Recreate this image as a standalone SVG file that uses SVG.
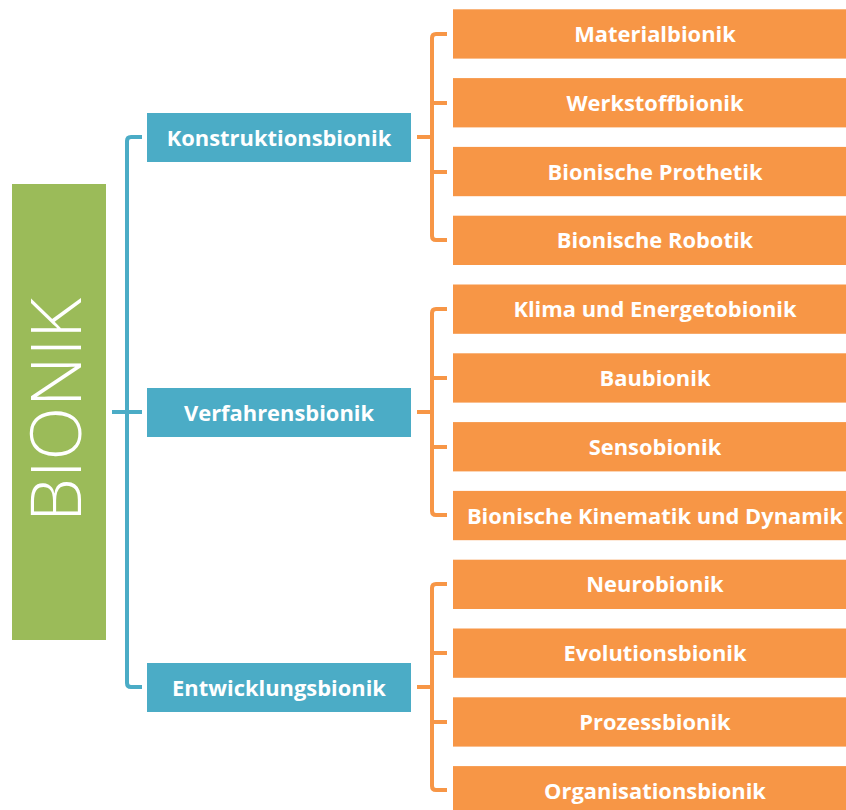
<svg xmlns="http://www.w3.org/2000/svg" width="846" height="810" viewBox="0 0 846 810">
<style>
.o{fill:#F79646}
.b{fill:#4BACC6}
.t{font-family:"Open Sans","Liberation Sans",sans-serif;font-weight:700;font-size:21.9px;fill:#fff;text-anchor:middle;dominant-baseline:central}
.co{fill:none;stroke:#F79646;stroke-width:4;stroke-linejoin:round}
.cb{fill:none;stroke:#4BACC6;stroke-width:4;stroke-linejoin:round}
</style>
<rect width="846" height="810" fill="#fff"/>
<g id="connectors">
<path class="cb" d="M142 137 H131 Q127 137 127 141 V683 Q127 687 131 687 H142 M112 412 H142"/>
<path class="co" d="M447 34 H436 Q432 34 432 38 V236 Q432 240 436 240 H447 M432 103 H447 M432 172 H447 M417 137 H432"/>
<path class="co" d="M447 309 H436 Q432 309 432 313 V511 Q432 515 436 515 H447 M432 378 H447 M432 447 H447 M417 412 H432"/>
<path class="co" d="M447 584 H436 Q432 584 432 588 V786 Q432 790 436 790 H447 M432 653 H447 M432 722 H447 M417 687 H432"/>
</g>
<g id="bionik"><rect x="12" y="184" width="94" height="456" fill="#9BBB59"/>
<text transform="translate(81,410) rotate(-90)" font-family="'Open Sans','Liberation Sans',sans-serif" font-weight="300" font-size="70" fill="#fff" text-anchor="middle" textLength="224" lengthAdjust="spacingAndGlyphs">BIONIK</text></g>
<g id="konstruktion"><rect class="b" x="147" y="113" width="264" height="49"/><text class="t" x="279" y="137">Konstruktionsbionik</text></g>
<g id="verfahren"><rect class="b" x="147" y="388" width="264" height="49"/><text class="t" x="279" y="412">Verfahrensbionik</text></g>
<g id="entwicklung"><rect class="b" x="147" y="663" width="264" height="49"/><text class="t" x="279" y="687">Entwicklungsbionik</text></g>
<g id="n1"><rect class="o" x="453" y="9.3" width="400" height="49.3"/><text class="t" x="655" y="33.5">Materialbionik</text></g>
<g id="n2"><rect class="o" x="453" y="78.1" width="400" height="49.3"/><text class="t" x="655" y="102.3">Werkstoffbionik</text></g>
<g id="n3"><rect class="o" x="453" y="146.9" width="400" height="49.3"/><text class="t" x="655" y="171.1">Bionische Prothetik</text></g>
<g id="n4"><rect class="o" x="453" y="215.7" width="400" height="49.3"/><text class="t" x="655" y="239.9">Bionische Robotik</text></g>
<g id="n5"><rect class="o" x="453" y="284.5" width="400" height="49.3"/><text class="t" x="655" y="308.7">Klima und Energetobionik</text></g>
<g id="n6"><rect class="o" x="453" y="353.3" width="400" height="49.3"/><text class="t" x="655" y="377.5">Baubionik</text></g>
<g id="n7"><rect class="o" x="453" y="422.1" width="400" height="49.3"/><text class="t" x="655" y="446.3">Sensobionik</text></g>
<g id="n8"><rect class="o" x="453" y="490.9" width="400" height="49.3"/><text class="t" x="655" y="515.1">Bionische Kinematik und Dynamik</text></g>
<g id="n9"><rect class="o" x="453" y="559.7" width="400" height="49.3"/><text class="t" x="655" y="583.9">Neurobionik</text></g>
<g id="n10"><rect class="o" x="453" y="628.5" width="400" height="49.3"/><text class="t" x="655" y="652.7">Evolutionsbionik</text></g>
<g id="n11"><rect class="o" x="453" y="697.3" width="400" height="49.3"/><text class="t" x="655" y="721.5">Prozessbionik</text></g>
<g id="n12"><rect class="o" x="453" y="766.1" width="400" height="49.3"/><text class="t" x="655" y="790.3">Organisationsbionik</text></g>
</svg>
